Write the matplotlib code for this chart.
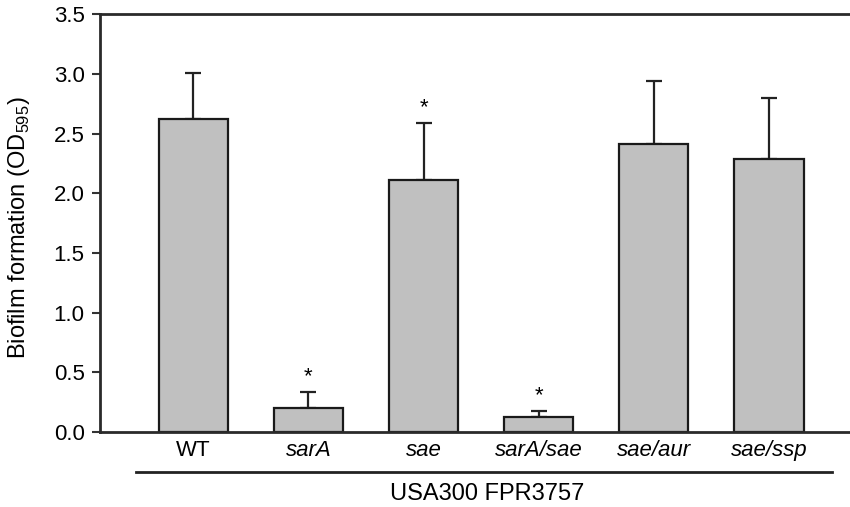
import numpy as np
import matplotlib
matplotlib.use('Agg')
import matplotlib.pyplot as plt
import matplotlib.transforms as mtransforms

plt.rcParams['font.family'] = ['Liberation Sans', 'DejaVu Sans']
plt.rcParams['mathtext.fontset'] = 'custom'
plt.rcParams['mathtext.rm'] = 'Liberation Sans'

cepas = ['WT', 'sarA', 'sae', 'sarA/sae', 'sae/aur', 'sae/ssp']
biofilm = [2.62, 0.20, 2.11, 0.128, 2.41, 2.29]
error = [0.39, 0.135, 0.48, 0.05, 0.535, 0.51]
significativo = [False, True, True, True, False, False]

fig = plt.figure(figsize=(8.5, 5.07), dpi=100)
ax = fig.add_axes([0.1176, 0.148, 0.886, 0.8235])

x = np.arange(len(cepas))
ax.bar(x, biofilm, width=0.6, color='#c0c0c0', edgecolor='#1a1a1a', linewidth=1.6, zorder=2)
ax.errorbar(x, biofilm, yerr=[np.zeros(len(error)), error], fmt='none', ecolor='#222222',
            elinewidth=1.6, capsize=6, capthick=1.6, zorder=1)

for xi, b, e, s in zip(x, biofilm, error, significativo):
    if s:
        ax.text(xi, b + e + 0.04, '*', ha='center', va='bottom', fontsize=16, color='black')

ax.set_xlim(-0.81, 5.73)
ax.set_ylim(0, 3.5)
ax.set_yticks(np.arange(0, 3.51, 0.5))
ax.set_yticklabels([f'{v:.1f}' for v in np.arange(0, 3.51, 0.5)], fontsize=16)
ax.set_xticks(x)
ax.set_xticklabels(cepas, fontsize=16)
for i, lab in enumerate(ax.get_xticklabels()):
    if i > 0:
        lab.set_style('italic')
ax.tick_params(axis='x', length=0, pad=6)
ax.tick_params(axis='y', length=6, width=1.5, color='#333333', pad=5)

for s in ['left', 'bottom', 'top']:
    ax.spines[s].set_linewidth(2)
    ax.spines[s].set_color('#2a2a2a')
ax.spines['right'].set_visible(False)

fig.text(19 / 850, 1 - 228 / 507, 'Biofilm formation (OD$_{595}$)', rotation=90,
         ha='center', va='center', fontsize=17)

trans = mtransforms.blended_transform_factory(ax.transData, ax.transAxes)
ax.plot([-0.5, 5.55], [-0.096, -0.096], transform=trans, color='#222222', lw=2, clip_on=False)
ax.text(2.55, -0.148, 'USA300 FPR3757', transform=trans, ha='center', va='center', fontsize=17)

plt.savefig('out.png', dpi=100)
plt.close()
